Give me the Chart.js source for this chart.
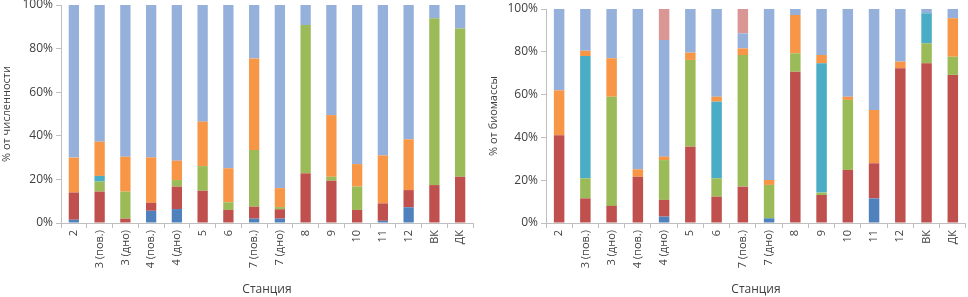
<!DOCTYPE html>
<html>
<head>
<meta charset="utf-8">
<script src="https://cdn.jsdelivr.net/npm/chart.js@4/dist/chart.umd.min.js"></script>
<style>
  body { margin: 0; background: #fff; }
  #izq { position: absolute; left: 0; top: 0; }
  #der { position: absolute; left: 484px; top: 0; }
</style>
</head>
<body>
<canvas id="izq" width="484" height="297"></canvas>
<canvas id="der" width="484" height="297"></canvas>
<script>
// Estaciones (eje X)
const estaciones = ['2', '3 (пов.)', '3 (дно)', '4 (пов.)', '4 (дно)', '5', '6', '7 (пов.)', '7 (дно)', '8', '9', '10', '11', '12', 'ВК', 'ДК'];
const ticksY = [0, 20, 40, 60, 80, 100];

// % от численности (grafico izquierdo)
const azulN = [1.5, 0, 0, 5.6, 6.4, 0, 0, 2, 2, 0, 0, 0, 1, 7.2, 0, 0];
const rojoN = [12.5, 14.4, 2, 3.7, 10.3, 14.8, 6, 5.5, 4.3, 22.8, 19.4, 6, 8, 7.9, 17.4, 21.2];
const verdeN = [0, 4.6, 12.4, 0, 3, 11.3, 3.5, 26, 1, 68, 1.8, 10.7, 0, 0, 76.5, 68];
const turquesaN = [0, 2.6, 0, 0, 0, 0, 0, 0, 0, 0, 0, 0, 0, 0, 0, 0];
const naranjaN = [16, 15.7, 16, 20.8, 8.9, 20.4, 15.6, 42, 8.7, 0, 28.3, 10.3, 22, 23.3, 0, 0];
const celesteN = [70, 62.7, 69.6, 69.9, 71.4, 53.5, 74.9, 24.5, 84, 9.2, 50.5, 73, 69, 61.6, 6.1, 10.8];
const rosaN = [0, 0, 0, 0, 0, 0, 0, 0, 0, 0, 0, 0, 0, 0, 0, 0];

// % от биомассы (grafico derecho)
const azulB = [0, 0, 0, 0, 3, 0, 0, 0, 2.2, 0, 0, 0, 11.5, 0, 0, 0];
const rojoB = [41, 11.5, 8, 21.6, 7.8, 35.7, 12.3, 17, 0, 70.7, 13.1, 24.8, 16.4, 72.3, 74.6, 69.2];
const verdeB = [0, 9.4, 51, 0, 18.6, 40.5, 8.6, 61.5, 15.6, 8.6, 1.1, 32.7, 0, 0, 9.4, 8.5];
const turquesaB = [0, 57.1, 0, 0, 0, 0, 35.8, 0, 0, 0, 60.4, 0, 0, 0, 14, 0];
const naranjaB = [21, 2.5, 18, 3.5, 1.6, 3.4, 2.3, 3.1, 2.3, 17.9, 3.9, 1.5, 24.9, 3.1, 0, 18];
const celesteB = [38, 19.5, 23, 74.9, 54.5, 20.4, 41, 7, 79.9, 2.8, 21.5, 41, 47.2, 24.6, 2, 4.3];
const rosaB = [0, 0, 0, 0, 14.5, 0, 0, 11.4, 0, 0, 0, 0, 0, 0, 0, 0];

// Colores tipo Excel, de abajo hacia arriba
const colores = ['#4F81BD', '#C0504D', '#9BBB59', '#4BACC6', '#F79646', '#95B0DA', '#DA9694'];

const fuente = { family: 'Open Sans', size: 11 };
const colorTexto = '#404040';
const colorEje = '#BFBFBF';

function ArmarDatasets(series) {
    return series.map(function (valores, i) {
        return {
            data: valores,
            backgroundColor: colores[i],
            borderWidth: 0,
            barPercentage: 0.4,
            categoryPercentage: 1,
        };
    });
}

function GraficoApilado(idCanvas, series, tituloY, anchoEjeY, padding) {
    let ctx = document.getElementById(idCanvas);
    return new Chart(ctx, {
        type: 'bar',
        data: {
            labels: estaciones,
            datasets: ArmarDatasets(series),
        },
        options: {
            responsive: false,
            animation: false,
            layout: { padding: padding },
            plugins: {
                legend: { display: false },
                tooltip: { enabled: false }
            },
            scales: {
                x: {
                    stacked: true,
                    grid: {
                        offset: true,
                        drawOnChartArea: false,
                        tickLength: 5,
                        color: colorEje,
                    },
                    border: { color: colorEje },
                    ticks: {
                        minRotation: 90,
                        maxRotation: 90,
                        autoSkip: false,
                        padding: 2,
                        color: colorTexto,
                        font: fuente,
                    },
                    title: {
                        display: true,
                        text: 'Станция',
                        color: colorTexto,
                        font: { family: 'Open Sans', size: 12 },
                        padding: { top: 0, bottom: 0 },
                    },
                    afterFit: function (escala) { escala.height = 297 - 223 - padding.bottom; }
                },
                y: {
                    stacked: true,
                    min: 0,
                    max: 100,
                    afterBuildTicks: function (escala) {
                        escala.ticks = ticksY.map(function (v) { return { value: v }; });
                    },
                    grid: {
                        drawOnChartArea: false,
                        tickLength: 5,
                        color: colorEje,
                    },
                    border: { color: colorEje },
                    ticks: {
                        padding: 3,
                        color: colorTexto,
                        font: { family: 'Open Sans', size: 12 },
                        callback: function (v) { return v + '%'; }
                    },
                    title: {
                        display: true,
                        text: tituloY,
                        color: colorTexto,
                        font: fuente,
                        padding: { top: 0, bottom: 0 },
                    },
                    afterFit: function (escala) {
                        escala.width = anchoEjeY;
                        escala.paddingTop = 0; // el 100% puede quedar cortado como en el original
                    }
                }
            }
        }
    });
}

GraficoApilado('izq', [azulN, rojoN, verdeN, turquesaN, naranjaN, celesteN, rosaN], '% от численности', 61,
    { left: 0, right: 11, top: 5, bottom: 0 });
GraficoApilado('der', [azulB, rojoB, verdeB, turquesaB, naranjaB, celesteB, rosaB], '% от биомассы', 59,
    { left: 3, right: 0, top: 9, bottom: 0 });
</script>
</body>
</html>
